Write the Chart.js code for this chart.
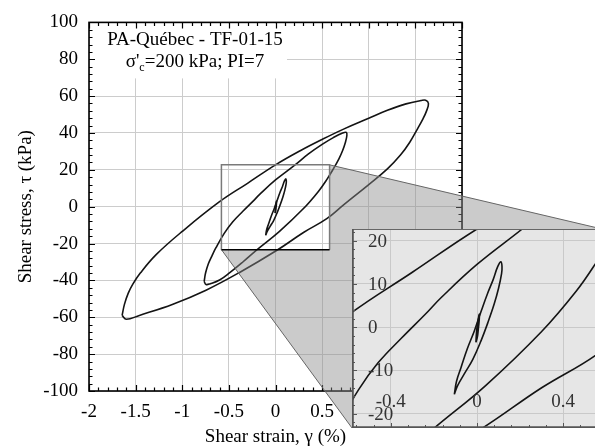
<!DOCTYPE html>
<html>
<head>
<meta charset="utf-8">
<script src="https://cdn.jsdelivr.net/npm/chart.js@4.4.0/dist/chart.umd.min.js"></script>
<style>
  html, body { margin: 0; padding: 0; background: #fff; overflow: hidden; }
  #wrap { position: relative; width: 595px; height: 448px; overflow: hidden; }
  #main { position: absolute; left: 0; top: 0; }
  #zoom { position: absolute; left: 352px; top: 229px; }
</style>
</head>
<body>
<div id="wrap">
  <canvas id="main" width="595" height="448"></canvas>
  <canvas id="zoom" width="250" height="199"></canvas>
</div>
<script>
// --- data (strain in %, stress in kPa) ---
const bigStrain = [-1.645, -1.62, -1.58, -1.53, -1.45, -1.28, -1.0, -0.6, -0.3, 0, 0.27, 0.5, 0.73, 1.0, 1.2, 1.4, 1.56, 1.61, 1.64,
                   1.62, 1.58, 1.52, 1.44, 1.34, 1.2, 1.0, 0.73, 0.55, 0.3, 0.02, -0.39, -0.745, -1.1, -1.46, -1.6, -1.645];
const bigStress = [-59, -53, -47, -42, -36, -26, -13.4, 2.7, 12.7, 22.7, 30.5, 36.5, 42.1, 48, 52.3, 55.8, 57.6, 57.8, 56,
                   52, 47.5, 42, 35, 28, 20.5, 12, 1, -6.5, -14, -23.5, -35.8, -45.3, -52.9, -59, -61.1, -59];

const midStrain = [-0.765, -0.75, -0.72, -0.68, -0.64, -0.55, -0.46, -0.35, -0.24, -0.167, 0, 0.21, 0.35, 0.5, 0.62, 0.72, 0.76,
                   0.765, 0.75, 0.72, 0.68, 0.62, 0.55, 0.46, 0.3, 0.04, -0.2, -0.35, -0.49, -0.6, -0.7, -0.745, -0.765];
const midStress = [-40.5, -36, -31, -26.5, -22.4, -14.5, -8.3, -2.5, 3, 6.8, 14.5, 22.7, 28.5, 33.8, 37.5, 40, 40.3,
                   38.5, 35, 30.5, 26, 20.5, 14.7, 8.3, -1, -13.5, -23.4, -30, -35.8, -39.8, -41.8, -42.2, -40.5];

const smallStrain = [-0.105, -0.095, -0.074, -0.045, -0.012, 0.02, 0.049, 0.075, 0.096, 0.111,
                     0.116, 0.114, 0.1, 0.08, 0.05, 0.019, -0.02, -0.059, -0.09, -0.105];
const smallStress = [-15.5, -12.5, -9.3, -5, -0.8, 3.8, 7.8, 11, 14, 15.1,
                     14, 12.4, 9, 5.4, 1, -3.1, -7.5, -10.8, -13.5, -15.5];

const tinyStrain = [-0.005, -0.002, 0.003, 0.008, 0.011, 0.01, 0.006, 0.002, -0.005];
const tinyStress = [-3.5, -1, 1, 2.5, 3, 1.5, -0.5, -2.2, -3.5];

const strainRange = [-2, 2];
const stressRange = [-100, 100];
const zoomStrain = [-0.58, 0.58];
const zoomStress = [-23.3, 22.7];

const titleLine1 = 'PA-Québec - TF-01-15';

// inset box position on the page
const INSET = { left: 352, top: 229, width: 250, height: 199 };
const SERIF = "'Liberation Serif', 'Times New Roman', serif";

Chart.defaults.font.family = SERIF;
Chart.defaults.color = '#000';

function toPoints(xs, ys) {
    return xs.map((x, i) => ({ x: x, y: ys[i] }));
}

function fmt(v) {
    return String(+Number(v).toFixed(2));
}

function makeDatasets() {
    const loops = [[bigStrain, bigStress], [midStrain, midStress], [smallStrain, smallStress], [tinyStrain, tinyStress]];
    return loops.map(l => ({
        data: toPoints(l[0], l[1]),
        showLine: true,
        borderColor: '#141414',
        borderWidth: 1.6,
        pointRadius: 0,
        tension: 0.4,
        fill: false
    }));
}

// --- main chart decorations ---
const mainDecor = {
    id: 'mainDecor',
    beforeDatasetsDraw(chart) {
        const { ctx, chartArea: a } = chart;
        ctx.save();
        ctx.fillStyle = '#fff';
        ctx.fillRect(a.left + 1, a.top + 1, 197, 55);
        ctx.fillStyle = '#000';
        ctx.font = '19px ' + SERIF;
        ctx.textBaseline = 'alphabetic';
        ctx.textAlign = 'center';
        ctx.fillText(titleLine1, 195, 45);
        // sigma'c line with subscript
        ctx.textAlign = 'left';
        const p1 = "\u03c3'", p3 = '=200 kPa; PI=7';
        ctx.font = '19px ' + SERIF;
        const w1 = ctx.measureText(p1).width, w3 = ctx.measureText(p3).width;
        ctx.font = '12px ' + SERIF;
        const w2 = ctx.measureText('c').width;
        let x = 195 - (w1 + w2 + w3) / 2;
        ctx.font = '19px ' + SERIF;
        ctx.fillText(p1, x, 67);
        ctx.font = '12px ' + SERIF;
        ctx.fillText('c', x + w1, 71);
        ctx.font = '19px ' + SERIF;
        ctx.fillText(p3, x + w1 + w2, 67);
        ctx.restore();
    },
    afterDatasetsDraw(chart) {
        const { ctx, chartArea: a, scales: { x, y } } = chart;
        ctx.save();
        ctx.strokeStyle = '#000';
        ctx.lineWidth = 1.2;
        ctx.beginPath();
        for (let i = -20; i <= 20; i++) {
            const px = Math.round(x.getPixelForValue(i / 10)) + 0.5;
            const len = i % 5 === 0 ? 6 : 3.5;
            ctx.moveTo(px, a.bottom); ctx.lineTo(px, a.bottom - len);
            ctx.moveTo(px, a.top); ctx.lineTo(px, a.top + len);
        }
        for (let i = -25; i <= 25; i++) {
            const py = Math.round(y.getPixelForValue(i * 4)) + 0.5;
            const len = i % 5 === 0 ? 6 : 3.5;
            ctx.moveTo(a.left, py); ctx.lineTo(a.left + len, py);
            ctx.moveTo(a.right, py); ctx.lineTo(a.right - len, py);
        }
        ctx.stroke();
        ctx.lineWidth = 1.6;
        ctx.strokeRect(a.left, a.top, a.right - a.left, a.bottom - a.top);
        ctx.restore();
    },
    afterDraw(chart) {
        const { ctx, scales: { x, y } } = chart;
        const rl = x.getPixelForValue(zoomStrain[0]), rr = x.getPixelForValue(zoomStrain[1]);
        const rt = y.getPixelForValue(zoomStress[1]), rb = y.getPixelForValue(zoomStress[0]);
        const il = INSET.left, it = INSET.top, ir = INSET.left + INSET.width, ib = INSET.top + INSET.height;
        ctx.save();
        ctx.fillStyle = 'rgba(140,140,140,0.45)';
        ctx.beginPath();
        ctx.moveTo(rr, rt);
        ctx.lineTo(ir, it);
        ctx.lineTo(ir, ib);
        ctx.lineTo(il, ib);
        ctx.lineTo(rl, rb);
        ctx.lineTo(rr, rb);
        ctx.closePath();
        ctx.fill();
        ctx.strokeStyle = '#666';
        ctx.lineWidth = 1;
        ctx.beginPath();
        ctx.moveTo(rr, rt); ctx.lineTo(ir, it);
        ctx.moveTo(rl, rb); ctx.lineTo(il, ib);
        ctx.stroke();
        // zoom rectangle
        ctx.strokeStyle = '#7a7a7a';
        ctx.lineWidth = 1.5;
        ctx.beginPath();
        ctx.moveTo(rl, rb); ctx.lineTo(rl, rt); ctx.lineTo(rr, rt); ctx.lineTo(rr, rb);
        ctx.stroke();
        ctx.strokeStyle = '#000';
        ctx.beginPath();
        ctx.moveTo(rl, rb); ctx.lineTo(rr, rb);
        ctx.stroke();
        ctx.restore();
    }
};

new Chart(document.getElementById('main').getContext('2d'), {
    type: 'scatter',
    data: { datasets: makeDatasets() },
    options: {
        responsive: false,
        animation: false,
        layout: { padding: { top: 19, right: 133, left: 0, bottom: 0 } },
        plugins: { legend: { display: false }, tooltip: { enabled: false } },
        scales: {
            x: {
                type: 'linear',
                min: strainRange[0], max: strainRange[1],
                afterFit: s => { s.height = 57; },
                grid: { color: '#cccccc', lineWidth: 1, drawTicks: false },
                border: { display: false },
                ticks: { stepSize: 0.5, autoSkip: false, maxRotation: 0, padding: 10, font: { size: 19 }, color: '#000', callback: fmt },
                title: { display: true, text: 'Shear strain, \u03b3 (%)', font: { size: 19 }, color: '#000', padding: { top: 0, bottom: 0 } }
            },
            y: {
                type: 'linear',
                min: stressRange[0], max: stressRange[1],
                afterFit: s => { s.width = 89; },
                grid: { color: '#cccccc', lineWidth: 1, drawTicks: false },
                border: { display: false },
                ticks: { stepSize: 20, autoSkip: false, padding: 11, font: { size: 19 }, color: '#000', callback: fmt },
                title: { display: true, text: 'Shear stress, \u03c4 (kPa)', font: { size: 19 }, color: '#000', padding: { top: 15, bottom: 0 } }
            }
        }
    },
    plugins: [mainDecor]
});

// --- inset chart ---
const insetDecor = {
    id: 'insetDecor',
    beforeDraw(chart) {
        const { ctx, chartArea: a } = chart;
        ctx.save();
        ctx.fillStyle = '#e6e6e6';
        ctx.fillRect(a.left, a.top, a.right - a.left, a.bottom - a.top);
        ctx.restore();
    },
    afterDraw(chart) {
        const { ctx, chartArea: a, scales: { x, y } } = chart;
        ctx.save();
        // tick labels drawn inside the plot
        ctx.fillStyle = '#333';
        ctx.font = '19px ' + SERIF;
        ctx.textBaseline = 'middle';
        ctx.textAlign = 'center';
        x.ticks.forEach(t => {
            ctx.fillText(fmt(t.value), x.getPixelForValue(t.value), a.bottom - 26);
        });
        ctx.textAlign = 'left';
        y.ticks.forEach(t => {
            ctx.fillText(fmt(t.value), a.left + 16, y.getPixelForValue(t.value) + 1);
        });
        // axes and inward ticks
        ctx.strokeStyle = '#555';
        ctx.lineWidth = 1;
        ctx.beginPath();
        for (let i = -7; i <= 7; i++) {
            const px = Math.round(x.getPixelForValue(i * 0.08)) + 0.5;
            const len = i % 5 === 0 ? 5 : 3;
            ctx.moveTo(px, a.bottom); ctx.lineTo(px, a.bottom - len);
        }
        for (let i = -11; i <= 11; i++) {
            const py = Math.round(y.getPixelForValue(i * 2)) + 0.5;
            const len = i % 5 === 0 ? 5 : 3;
            ctx.moveTo(a.left, py); ctx.lineTo(a.left + len, py);
        }
        ctx.stroke();
        ctx.strokeStyle = '#666';
        ctx.beginPath();
        ctx.moveTo(a.left, a.top + 0.5); ctx.lineTo(a.right, a.top + 0.5);
        ctx.stroke();
        ctx.strokeStyle = '#555';
        ctx.lineWidth = 1.8;
        ctx.beginPath();
        ctx.moveTo(a.left + 0.9, a.top); ctx.lineTo(a.left + 0.9, a.bottom - 0.9); ctx.lineTo(a.right, a.bottom - 0.9);
        ctx.stroke();
        ctx.restore();
    }
};

new Chart(document.getElementById('zoom').getContext('2d'), {
    type: 'scatter',
    data: { datasets: makeDatasets() },
    options: {
        responsive: false,
        animation: false,
        layout: { padding: 0 },
        plugins: { legend: { display: false }, tooltip: { enabled: false } },
        scales: {
            x: {
                type: 'linear',
                min: zoomStrain[0], max: zoomStrain[1],
                afterFit: s => { s.height = 0; },
                grid: { color: '#c9c9c9', lineWidth: 1, drawTicks: false },
                border: { display: false },
                ticks: { display: false, stepSize: 0.4, includeBounds: false }
            },
            y: {
                type: 'linear',
                min: zoomStress[0], max: zoomStress[1],
                afterFit: s => { s.width = 0; },
                grid: { color: '#c9c9c9', lineWidth: 1, drawTicks: false },
                border: { display: false },
                ticks: { display: false, stepSize: 10, includeBounds: false }
            }
        }
    },
    plugins: [insetDecor]
});
</script>
</body>
</html>
